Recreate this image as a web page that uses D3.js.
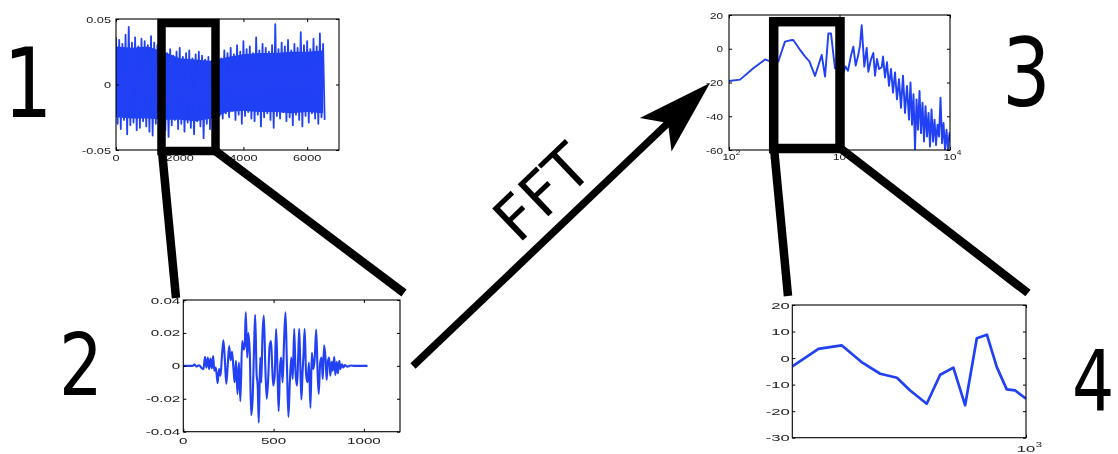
<!DOCTYPE html>
<html><head><meta charset="utf-8">
<script src="https://cdn.jsdelivr.net/npm/d3@7"></script>
<style>
html,body{margin:0;padding:0;background:#fff;}
svg{display:block;}
</style></head>
<body><svg id="fig" width="1118" height="454"></svg>
<script>
// ---- Panel 1: whole recording, spike top / bottom every 100 samples
const signalStep = 100;
const signalTop = [0.036,0.034,0.031,0.038,0.044,0.032,0.036,0.029,0.035,0.033,0.030,0.037,0.032,
  0.030,0.028,0.026,
  0.024,0.027,0.022,0.025,0.028,0.021,0.024,0.026,0.020,0.023,0.025,0.022,0.019,0.021,
  0.018,0.022,0.025,0.020,
  0.026,0.024,0.028,0.023,0.030,0.025,0.033,0.027,0.029,0.024,0.036,0.026,0.031,0.028,0.025,0.030,
  0.046,0.027,0.032,0.029,0.034,0.026,0.031,0.028,0.040,0.030,0.033,0.027,0.035,0.029,0.039,0.031];
const signalBottom = [-0.030,-0.034,-0.027,-0.038,-0.031,-0.029,-0.035,-0.033,-0.028,-0.032,-0.036,-0.039,-0.030,
  -0.032,-0.029,-0.035,
  -0.040,-0.031,-0.027,-0.034,-0.030,-0.036,-0.029,-0.033,-0.038,-0.028,-0.032,-0.041,-0.030,-0.034,
  -0.027,-0.030,-0.024,-0.026,
  -0.022,-0.025,-0.020,-0.027,-0.023,-0.030,-0.024,-0.021,-0.026,-0.028,-0.023,-0.032,-0.025,-0.022,-0.027,-0.033,
  -0.024,-0.026,-0.021,-0.028,-0.025,-0.031,-0.023,-0.027,-0.032,-0.024,-0.029,-0.022,-0.026,-0.030,-0.025,-0.027];
// dense body of the recording, sampled every 500 samples
const signalBodyStep = 500;
const signalBodyTop = [0.029,0.028,0.029,0.025,0.020,0.019,0.018,0.021,0.023,0.024,0.024,0.025,0.025,0.026];
const signalBodyBottom = [-0.025,-0.026,-0.026,-0.027,-0.027,-0.028,-0.026,-0.021,-0.020,-0.021,-0.021,-0.022,-0.021,-0.022];
const signalTicksX = [0,2000,4000,6000];
const signalLabelsX = ["0","2000","4000","6000"];
const signalTicksY = [-0.05,0,0.05];
const signalLabelsY = ["-0.05","0","0.05"];

// ---- Panel 2: one windowed frame (turning points of the waveform)
const frameIdx = [0,50,62,72,88,100,112,120,128,136,143,150,158,165,172,180,190,198,206,214,222,230,238,246,254,262,270,278,284,292,
  300,308,316,326,334,340,346,354,360,368,376,384,392,398,406,412,418,426,432,438,446,454,462,470,478,486,492,498,506,514,
  522,528,536,542,550,558,566,574,582,590,598,606,614,622,630,636,642,648,654,660,666,672,680,688,696,704,712,720,728,736,
  744,750,758,766,772,780,788,794,800,808,814,822,828,836,842,850,856,864,870,878,886,894,910,925,950,1020];
const frameVal = [0,0,0.0008,-0.0004,0.0004,-0.0012,-0.002,0.0055,-0.001,0.005,-0.002,0.0045,-0.0015,0.006,-0.003,-0.001,-0.0105,-0.002,-0.006,0.006,
  0.0155,0.004,-0.011,0.0005,0.012,0.0035,0.0085,-0.002,-0.01,0.003,-0.017,0.002,-0.0215,0.015,0.01,0.012,0.0325,0.005,0.02,0.008,
  -0.03,-0.02,0.012,0.031,-0.005,-0.012,-0.0345,0.005,-0.01,0.017,0.0305,0.0,-0.02,-0.008,0.012,0.015,0.0,-0.012,-0.006,0.0225,
  -0.005,-0.0275,0.0,0.005,-0.01,0.015,0.0325,0.0,-0.031,-0.01,0.005,-0.008,0.0225,-0.005,-0.012,0.005,0.0225,0.0,-0.0205,-0.005,
  0.008,0.0225,-0.005,-0.01,0.002,-0.0255,0.008,-0.002,0.005,0.022,-0.005,-0.017,0.002,0.005,-0.008,0.0125,0.004,-0.0085,0.002,0.005,
  -0.006,0.0025,-0.003,0.0055,-0.0055,0.0025,-0.0045,0.003,-0.002,0.001,-0.001,0.0005,-0.0005,0.0002,0,0];
const frameTicksX = [0,500,1000];
const frameLabelsX = ["0","500","1000"];
const frameTicksY = [-0.04,-0.02,0,0.02,0.04];
const frameLabelsY = ["-0.04","-0.02","0","0.02","0.04"];

// ---- Panel 3: magnitude spectrum (dB) against frequency
const specFreq = [100,126,166,212,235,258,279,321,357,382,440,488,534,600,690,740,793,838,910,
  1000,1076,1133,1194,1271,1334,1402,1480,1533,1588,1677,1763,1823,1928,2023,2096,2185,2278,2409,2476,
  2581,2691,2805,2925,3050,3179,3314,3455,3602,3755,3915,4081,4256,4391,4531,4675,4824,4977,5135,5298,
  5467,5640,5819,6004,6195,6391,6594,6804,7020,7242,7472,7710,7955,8207,8468,8737,9014,9297,9592,9897,10000];
const specDb = [-19.1,-18.3,-11.6,-6.3,-7.5,-9,-7.7,4.2,5.0,5.2,-0.7,-4.7,-7.5,-16.1,-3.7,-16.5,9.1,9.0,-11.6,
  -12,-15,-10.5,-13,-4,1.2,-10,-3.6,2,14,-10.6,0.5,-13.6,-6.2,-2.5,-16,-6,-12,-11,-4.6,
  -17,-8,-22,-12,-26,-14,-30,-18,-35,-16,-38,-22,-42,-20,-45,-27,-60,-30,-48,-25,
  -50,-32,-55,-34,-52,-38,-58,-36,-55,-42,-57,-45,-52,-29,-56,-44,-60,-48,-60,-50,-55];
const specTicksX = [100,1000,10000];
const specExpX = ["2","3","4"];
const specTicksY = [-60,-40,-20,0,20];
const specLabelsY = ["-60","-40","-20","0","20"];

// ---- Panel 4: spectrum detail up to 1 kHz
const detailFreq = [250,292,335,377,421,465,503,555,601,650,697,747,793,841,892,938,1000];
const detailDb = [-3.1,3.5,4.8,-1.5,-5.9,-7.4,-12.2,-17.2,-6.3,-3.6,-17.8,7.5,8.8,-3.4,-11.8,-12.2,-15.3];
const detailTicksX = [1000];
const detailExpX = ["3"];
const detailTicksY = [-30,-20,-10,0,10,20];
const detailLabelsY = ["-30","-20","-10","0","10","20"];

const BLUE = "#2040f4";
const svg = d3.select("#fig");
const defs = svg.append("defs");
defs.append("filter").attr("id","soft").append("feGaussianBlur").attr("stdDeviation",0.35);

function panel(o) {
  const g = svg.append("g").attr("filter","url(#soft)");
  const [x0,x1] = o.x.range(), [y1,y0] = o.y.range();
  defs.append("clipPath").attr("id","clip-"+o.name)
    .append("rect").attr("x",x0).attr("y",y0).attr("width",x1-x0).attr("height",y1-y0);
  const plot = g.append("g").attr("clip-path","url(#clip-"+o.name+")");

  // optional filled body under the trace
  if (o.body) {
    plot.append("path").datum(o.body)
      .attr("fill",BLUE).attr("stroke","none")
      .attr("d", d3.area().x(d=>o.x(d[0])).y0(d=>o.y(d[2])).y1(d=>o.y(d[1])));
  }
  // data line
  plot.append("path").datum(o.points)
    .attr("fill","none").attr("stroke",BLUE).attr("stroke-width",o.lw)
    .attr("stroke-linejoin","round")
    .attr("d", d3.line().x(d=>o.x(d[0])).y(d=>o.y(d[1])).curve(o.curve || d3.curveLinear));

  // inward ticks on all four sides
  const mk = (axis, tr) => g.append("g").attr("transform",tr)
      .call(axis.tickSizeInner(-3).tickSizeOuter(0).tickFormat(""))
      .call(s=>{s.select(".domain").remove(); s.selectAll("line").attr("stroke","#000");});
  mk(d3.axisBottom(o.x).tickValues(o.xTicks), `translate(0,${y1})`);
  mk(d3.axisTop(o.x).tickValues(o.xTicks), `translate(0,${y0})`);
  mk(d3.axisLeft(o.y).tickValues(o.yTicks), `translate(${x0},0)`);
  mk(d3.axisRight(o.y).tickValues(o.yTicks), `translate(${x1},0)`);

  g.append("rect").attr("x",x0).attr("y",y0).attr("width",x1-x0).attr("height",y1-y0)
    .attr("fill","none").attr("stroke","#000").attr("stroke-width",1.1);

  const lab = g.append("g").attr("font-family","'Liberation Sans', Arial, sans-serif")
    .attr("font-size",9.8).attr("fill","#222");
  lab.selectAll("text.yl").data(o.yTicks).join("text").attr("class","yl")
    .attr("transform", d=>`translate(${x0-o.yGap},${o.y(d)}) scale(${o.sx},1)`)
    .attr("text-anchor","end").attr("dy","0.36em")
    .text((d,i)=>o.yLabels[i]);
  if (o.xExp) {
    lab.selectAll("text.xl").data(o.xTicks).join("text").attr("class","xl")
      .attr("transform", d=>`translate(${o.x(d)},${y1+o.xGap}) scale(${o.sx},1)`)
      .attr("text-anchor","middle").attr("dy","0.36em").text("10");
    lab.selectAll("text.xe").data(o.xTicks).join("text").attr("class","xe")
      .attr("transform", d=>`translate(${o.x(d)+5.6*o.sx},${y1+o.xGap-4}) scale(${o.sx},1)`)
      .attr("text-anchor","start").attr("font-size",7).attr("dy","0.36em")
      .text((d,i)=>o.xExp[i]);
  } else {
    lab.selectAll("text.xl").data(o.xTicks).join("text").attr("class","xl")
      .attr("transform", d=>`translate(${o.x(d)},${y1+o.xGap}) scale(${o.sx},1)`)
      .attr("text-anchor","middle").attr("dy","0.36em")
      .text((d,i)=>o.xLabels[i]);
  }
}

// Panel 1
panel({
  name:"signal",
  x: d3.scaleLinear().domain([0,7000]).range([116,339]),
  y: d3.scaleLinear().domain([-0.05,0.05]).range([150,19]),
  points: signalTop.flatMap((t,i)=>[[i*signalStep,t],[i*signalStep+signalStep/2,signalBottom[i]]]),
  body: signalBodyTop.map((t,i)=>[i*signalBodyStep, t, signalBodyBottom[i]]),
  lw: 1.8, xTicks: signalTicksX, xLabels: signalLabelsX, yTicks: signalTicksY, yLabels: signalLabelsY,
  sx: 1.3, yGap: 5, xGap: 7.5
});

// Panel 2
panel({
  name:"frame",
  x: d3.scaleLinear().domain([0,1200]).range([183.3,400]),
  y: d3.scaleLinear().domain([-0.04,0.04]).range([431.7,300]),
  points: frameIdx.map((d,i)=>[d,frameVal[i]]), curve: d3.curveMonotoneX,
  lw: 2.1, xTicks: frameTicksX, xLabels: frameLabelsX, yTicks: frameTicksY, yLabels: frameLabelsY,
  sx: 1.55, yGap: 3, xGap: 8.5
});

// Panel 3
panel({
  name:"spec",
  x: d3.scaleLog().domain([100,10000]).range([729,950]),
  y: d3.scaleLinear().domain([-60,20]).range([150,15]),
  points: specFreq.map((d,i)=>[d,specDb[i]]),
  lw: 1.9, xTicks: specTicksX, xExp: specExpX, yTicks: specTicksY, yLabels: specLabelsY,
  sx: 1.2, yGap: 6, xGap: 6
});

// Panel 4
panel({
  name:"detail",
  x: d3.scaleLog().domain([250,1000]).range([792.3,1026]),
  y: d3.scaleLinear().domain([-30,20]).range([437.7,305]),
  points: detailFreq.map((d,i)=>[d,detailDb[i]]),
  lw: 2.7, xTicks: detailTicksX, xExp: detailExpX, yTicks: detailTicksY, yLabels: detailLabelsY,
  sx: 1.7, yGap: 2.5, xGap: 11
});

// ---- zoom frames and connector lines
const ink = svg.append("g").attr("stroke","#000").attr("fill","none").attr("stroke-width",8.5);
ink.append("rect").attr("x",161.5).attr("y",23).attr("width",54).attr("height",128);
ink.append("line").attr("x1",162).attr("y1",151).attr("x2",176).attr("y2",298);
ink.append("line").attr("x1",215.5).attr("y1",151).attr("x2",404).attr("y2",293);
ink.append("rect").attr("x",773.7).attr("y",21.7).attr("width",66.3).attr("height",126.8).attr("stroke-width",9.5);
ink.append("line").attr("x1",774).attr("y1",148).attr("x2",788).attr("y2",296);
ink.append("line").attr("x1",840).attr("y1",148).attr("x2",1028).attr("y2",293);

// ---- FFT arrow
const tail = [413,366], tip = [710,83];
const len = Math.hypot(tip[0]-tail[0], tip[1]-tail[1]);
const u = [(tip[0]-tail[0])/len, (tip[1]-tail[1])/len], n = [-u[1], u[0]];
const at = (a,b)=>[tip[0]+a*u[0]+b*n[0], tip[1]+a*u[1]+b*n[1]];
svg.append("line").attr("x1",tail[0]).attr("y1",tail[1])
  .attr("x2",at(-56,0)[0]).attr("y2",at(-56,0)[1])
  .attr("stroke","#000").attr("stroke-width",7.5);
svg.append("path").attr("fill","#000")
  .attr("d", d3.line()([tip, at(-75,-23), at(-58,0), at(-75,23)]) + "Z");

const angle = Math.atan2(u[1],u[0])*180/Math.PI;
svg.append("text").attr("transform",`translate(557,208) rotate(${angle})`)
  .attr("text-anchor","middle").attr("font-family","'DejaVu Sans', sans-serif")
  .attr("font-size",61).attr("fill","#000").text("FFT");

// ---- panel numbers
const nums = svg.append("g").attr("font-family","'DejaVu Sans', sans-serif")
  .attr("fill","#000").attr("text-anchor","middle");
const num = (t,x,y,s) => nums.append("text")
  .attr("transform",`translate(${x},${y}) scale(0.8,1)`).attr("font-size",s).text(t);
num("1",28,117,96);
num("2",81,395,86);
num("3",1026.5,106,95);
num("4",1093,410,83);
</script>
</body></html>
